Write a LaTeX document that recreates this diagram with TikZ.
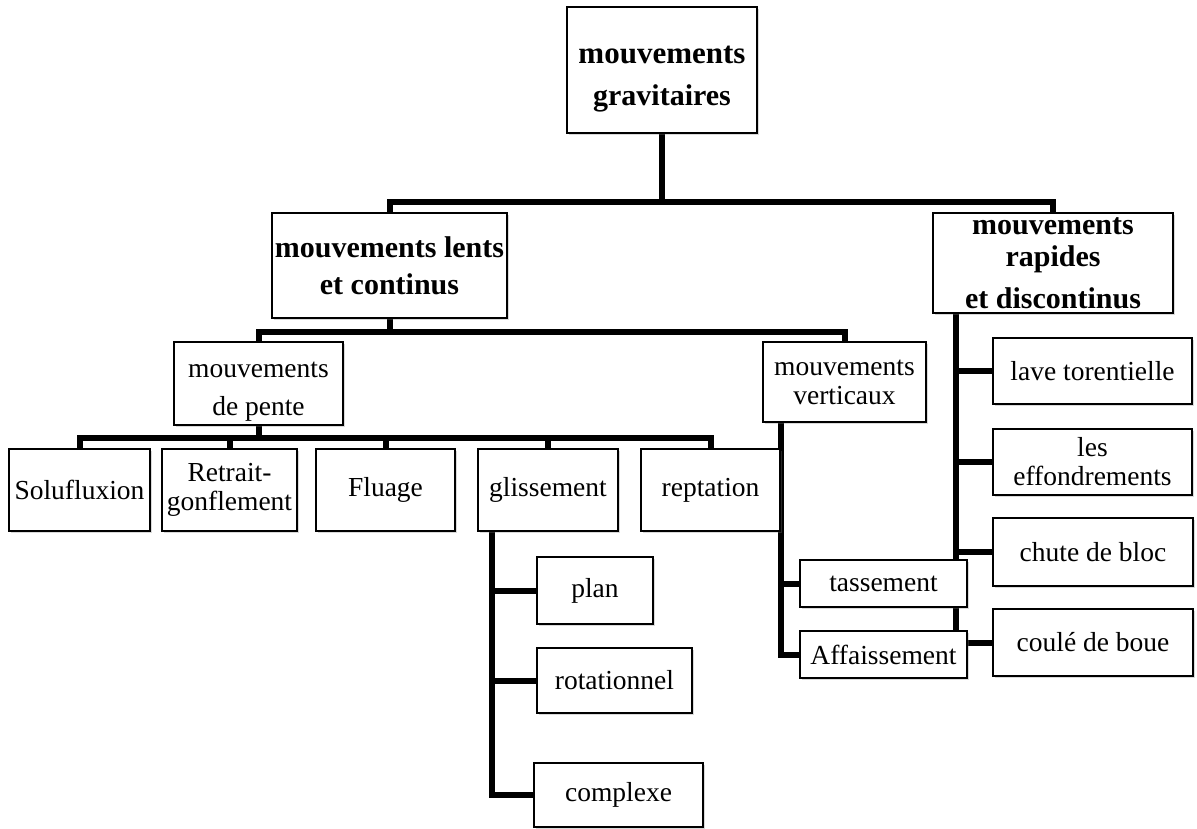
\documentclass[tikz,border=0pt]{standalone}
\usepackage{fontspec}
\setmainfont{Liberation Serif}
\usetikzlibrary{shadows}
\pgfdeclarelayer{background}
\pgfsetlayers{background,main}

\begin{document}
\begin{tikzpicture}[x=1pt,y=-1pt,
  box/.style={draw,fill=white,line width=2pt,inner sep=0pt,align=center,
    drop shadow={shadow xshift=2pt,shadow yshift=-2pt,opacity=0.3},
    font=\fontsize{27.5}{29}\selectfont},
  head/.style={box,font=\fontsize{30}{37}\selectfont\bfseries},
  link/.style={line width=6pt}]
  \useasboundingbox (0,0) rectangle (1197,828);

  % top levels
  \node[head,minimum width=190pt,minimum height=126pt] (grav) at (662,70) {\fontsize{31}{37}\selectfont\rule{0pt}{36pt}mouvements\\[5pt]gravitaires};
  \node[head,minimum width=235pt,minimum height=105pt] (lents) at (389.5,265.5) {mouvements lents\\et continus};
  \node[head,minimum width=240pt,minimum height=100pt] (rapides) at (1053,263) {mouvements\\[-5pt]rapides\\[5pt]et discontinus};

  % mouvements lents
  \node[box,minimum width=169pt,minimum height=83pt] (pente) at (258.5,383.5) {\rule{0pt}{32pt}mouvements\\[9pt]de pente};
  \node[box,minimum width=163pt,minimum height=80pt] (verticaux) at (844.5,382) {mouvements\\verticaux};

  \node[box,minimum width=141pt,minimum height=82pt] (solu) at (79.5,490) {Solufluxion};
  \node[box,minimum width=135pt,minimum height=82pt] (retrait) at (229.5,490) {Retrait-\\gonflement};
  \node[box,minimum width=139pt,minimum height=82pt] (fluage) at (385.5,490) {Fluage};
  \node[box,minimum width=140pt,minimum height=82pt] (gliss) at (548,490) {glissement};
  \node[box,minimum width=139pt,minimum height=82pt] (rept) at (710.5,490) {reptation};

  \node[box,minimum width=116pt,minimum height=67pt] (plan) at (595,590.5) {plan};
  \node[box,minimum width=155pt,minimum height=65pt] (rot) at (614.5,680.5) {rotationnel};
  \node[box,minimum width=169pt,minimum height=64pt] (compl) at (618.5,795) {complexe};

  \node[box,minimum width=167pt,minimum height=47pt] (tass) at (883.5,583.5) {tassement};
  \node[box,minimum width=167pt,minimum height=47pt] (affa) at (883.5,654.5) {Affaissement};

  % mouvements rapides
  \node[box,minimum width=199pt,minimum height=66pt] (lave) at (1092.5,371) {lave torentielle};
  \node[box,minimum width=199pt,minimum height=66pt] (effo) at (1092.5,462) {les\\effondrements};
  \node[box,minimum width=200pt,minimum height=68pt] (chute) at (1093,552) {chute de bloc};
  \node[box,minimum width=200pt,minimum height=67pt] (coule) at (1093,642.5) {coulé de boue};

  \coordinate (g1) at (662,202);
  \coordinate (l1) at (389.5,332);
  \coordinate (p1) at (258.5,438);
  \coordinate (gs) at ([xshift=15pt]gliss.south west);
  \coordinate (vs) at ([xshift=19pt]verticaux.south west);
  \coordinate (rs) at ([xshift=24pt]rapides.south west);

  \begin{pgfonlayer}{background}
    \draw[link] (grav.south) -- (g1);
    \draw[link] (lents.north) |- (g1);
    \draw[link] (rapides.north) |- (g1);

    \draw[link] (lents.south) -- (l1);
    \draw[link] (pente.north) |- (l1);
    \draw[link] (verticaux.north) |- (l1);

    \draw[link] (pente.south) -- (p1);
    \draw[link] (solu.north) |- (p1);
    \draw[link] (retrait.north) |- (p1);
    \draw[link] (fluage.north) |- (p1);
    \draw[link] (gliss.north) |- (p1);
    \draw[link] (rept.north) |- (p1);

    \draw[link] (gs) |- (plan.west);
    \draw[link] (gs) |- (rot.west);
    \draw[link] (gs) |- (compl.west);

    \draw[link] (vs) |- (tass.west);
    \draw[link] (vs) |- (affa.west);

    \draw[link] (rs) |- (lave.west);
    \draw[link] (rs) |- (effo.west);
    \draw[link] (rs) |- (chute.west);
    \draw[link] (rs) |- (coule.west);
  \end{pgfonlayer}
\end{tikzpicture}
\end{document}
